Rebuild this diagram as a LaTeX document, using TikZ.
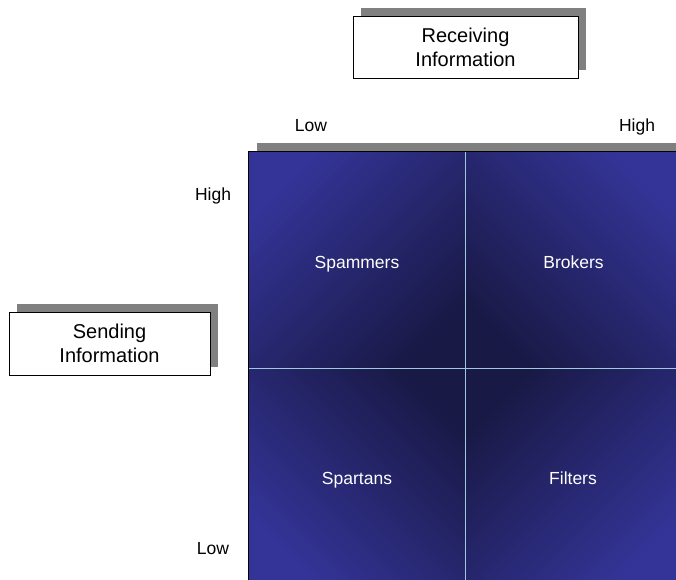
\documentclass[tikz,border=0pt]{standalone}
\usepackage{fontspec}
\setmainfont{Liberation Sans}
\usetikzlibrary{shadows}
\definecolor{quadlight}{RGB}{52,52,152}
\definecolor{quaddark}{RGB}{25,25,70}
\definecolor{divider}{RGB}{160,200,225}
\definecolor{shadowgray}{RGB}{128,128,128}
\tikzset{
  quad/.style={minimum width=216pt, minimum height=216pt, inner sep=0pt,
    top color=quadlight, bottom color=quaddark},
  quadtext/.style={text=white, inner sep=0pt, text height=12.6pt, text depth=0pt,
    font=\fontsize{17.5}{21}\selectfont},
  axislabel/.style={inner sep=0pt, text height=12.6pt, text depth=0pt,
    font=\fontsize{17.5}{21}\selectfont},
  titlebox/.style={draw=black, line width=0.9pt, fill=white, inner sep=0pt,
    align=center, font=\fontsize{20}{24}\selectfont,
    general shadow={fill=shadowgray, shadow xshift=8pt, shadow yshift=8pt}},
  divline/.style={draw=divider, line width=1.3pt}
}
\begin{document}
\begin{tikzpicture}[x=1pt,y=-1pt]
\useasboundingbox (0,0) rectangle (676,579);
% shadow bar above grid
\fill[shadowgray] (257,143) rectangle (690,152);
% quadrants
\node[quad, shading angle=45]  (q1) at (357,260) {};
\node[quad, shading angle=-45] (q2) at (573,260) {};
\node[quad, shading angle=135] (q3) at (357,476) {};
\node[quad, shading angle=-135](q4) at (573,476) {};
% border
\draw[black, line width=1pt] (q3.south west) -- (q1.north west) -- (q2.north east);
% dividers
\draw[divline] (q1.north east) -- (q3.south east);
\draw[divline] (q1.south west) -- (q2.south east);
% quadrant labels
\node[quadtext] (t1) at (357,262.5) {Spammers};
\node[quadtext] (t2) at (573.5,262.5) {Brokers};
\node[quadtext] (t3) at (357,478.5) {Spartans};
\node[quadtext] (t4) at (573,478.5) {Filters};
% axis labels
\node[axislabel] (rlow)  at (311,125.5) {Low};
\node[axislabel] (rhigh) at (637,125.5) {High};
\node[axislabel] (shigh) at (213,194) {High};
\node[axislabel] (slow)  at (213,548.5) {Low};
% title boxes
\node[titlebox, minimum width=225pt, minimum height=62pt] (recv) at (465.5,47) {Receiving\\Information};
\node[titlebox, minimum width=201pt, minimum height=63pt] (send) at (109.5,343.5) {Sending\\Information};
\end{tikzpicture}
\end{document}
